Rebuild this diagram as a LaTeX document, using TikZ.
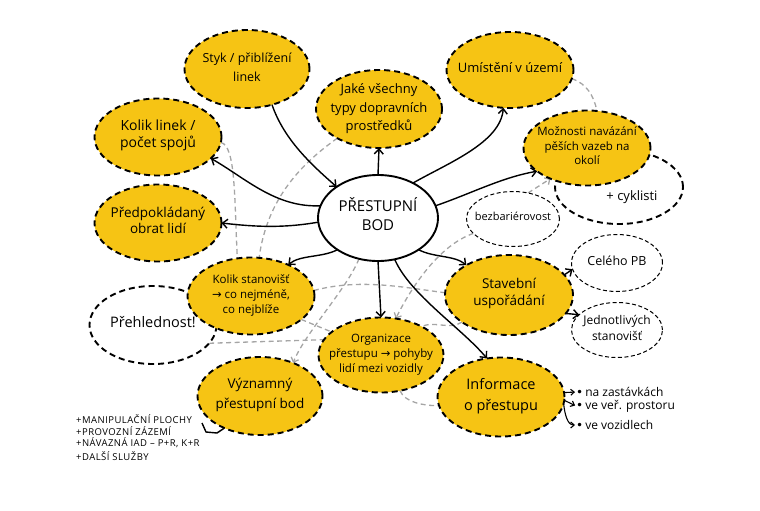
\documentclass[tikz,border=0pt]{standalone}
\usepackage{fontspec}
\setmainfont{Open Sans}
\newfontfamily\dv{DejaVu Sans}
\usetikzlibrary{shapes.geometric,arrows.meta}
\definecolor{ylw}{RGB}{246,196,20}
\definecolor{gry}{RGB}{165,165,165}
\pgfdeclarelayer{bg}
\pgfsetlayers{bg,main}
\newcommand\zt[1]{\smash{\makebox[0pt]{\raisebox{-.35ex}{\begin{tabular}{@{}c@{}}#1\end{tabular}}}}}
\newcommand\ar{{\dv →}}
\newcommand\bl{{\dv •}\,}
\begin{document}
\begin{tikzpicture}[x=1pt,y=-1pt,
  base/.style={ellipse, align=center, inner sep=0pt, outer sep=0pt},
  yel/.style={base, fill=ylw, draw=black, line width=1.9pt, dash pattern=on 6pt off 4pt},
  wht/.style={base, fill=white, draw=black, line width=1.9pt, dash pattern=on 6pt off 4pt},
  thn/.style={base, fill=white, draw=black, line width=1pt, dash pattern=on 4pt off 2.5pt},
  ctr/.style={base, fill=white, draw=black, line width=1.9pt},
  sz/.style 2 args={minimum width=#1pt, minimum height=#2pt},
  fs/.style 2 args={font=\fontsize{#1}{#2}\selectfont},
  arr/.style={draw=black, line width=1.4pt, -{Straight Barb[length=5pt,width=9pt,line width=1.4pt]}},
  sarr/.style={draw=black, line width=1.1pt, shorten >=1pt, -{Straight Barb[length=3.5pt,width=6pt]}},
  gd/.style={draw=gry, line width=1.3pt, dash pattern=on 5pt off 3.5pt},
  gda/.style={gd, -{Straight Barb[length=4pt,width=8pt]}},
  lst/.style={anchor=west, inner sep=0pt, font=\fontsize{9.5}{10}\selectfont\addfontfeatures{LetterSpace=5}},
  bul/.style={anchor=west, inner sep=0pt, font=\fontsize{12}{13}\selectfont}
]
\useasboundingbox (0,0) rectangle (760,511);

% nodes
\node[wht, sz={128}{74}] (cyk) at (619,187) {};
\node[fs={13}{15}, inner sep=0pt] (cykt) at (632,197) {+ cyklisti};
\node[wht, sz={127}{78}, fs={14.5}{17}] (P) at (153,325) {\zt{Přehlednost!}};

\node[ctr, sz={120}{86}, fs={15}{19}] (C) at (378,218) {\zt{PŘESTUPNÍ\\BOD}};
\node[yel, sz={125}{78}, fs={12.5}{19}] (styk) at (247,69) {\zt{Styk / přiblížení\\linek}};
\node[yel, sz={127}{77}, fs={14}{17}] (kl) at (158,137) {\zt{Kolik linek /\\počet spojů}};
\node[yel, sz={126}{78}, fs={13}{18.5}] (J) at (379,109) {\zt{Jaké všechny\\typy dopravních\\prostředků}};
\node[yel, sz={127}{76}, fs={13}{15}] (U) at (510,70) {\zt{Umístění v území}};
\node[yel, sz={127}{75}, fs={11.5}{14.5}] (M) at (587,148) {\zt{Možnosti navázání\\pěších vazeb na\\okolí}};
\node[thn, sz={93}{55}, fs={11}{13}] (B) at (513,219) {\zt{bezbariérovost}};
\node[yel, sz={127}{77}, fs={13.5}{16}] (po) at (158,223) {\zt{Předpokládaný\\obrat lidí}};
\node[yel, sz={127}{77}, fs={11.5}{15}] (ks) at (251,296) {\zt{Kolik stanovišť\\\ar{} co nejméně,\\co nejblíže}};
\node[yel, sz={128}{80}, fs={13.5}{17}] (S) at (509,295) {\zt{Stavební\\uspořádání}};
\node[thn, sz={91}{57}, fs={12.5}{15}] (cpb) at (617,263) {\zt{Celého PB}};
\node[thn, sz={91}{55}, fs={12}{16}] (js) at (617,330) {\zt{Jednotlivých\\stanovišť}};
\node[yel, sz={125}{75}, fs={11.5}{15}] (O) at (381,355) {\zt{Organizace\\přestupu \ar{} pohyby\\lidí mezi vozidly}};
\node[yel, sz={127}{79}, fs={14.5}{21}] (I) at (501,397) {\zt{Informace\\o přestupu}};
\node[yel, sz={125}{78}, fs={13.5}{20}] (V) at (260,396) {\zt{Významný\\přestupní bod}};

% left list
\node[lst] (l1) at (76,419) {+MANIPULAČNÍ PLOCHY};
\node[lst] (l2) at (76,431) {+PROVOZNÍ ZÁZEMÍ};
\node[lst] (l3) at (76,443) {+NÁVAZNÁ IAD – P+R, K+R};
\node[lst] (l4) at (76,456) {+DALŠÍ SLUŽBY};
\coordinate (br) at (202,423);

% right list
\node[bul] (b1) at (576,392) {\bl na zastávkách};
\node[bul] (b2) at (576,406) {\bl ve veř. prostoru};
\node[bul] (b3) at (576,425) {\bl ve vozidlech};

% grey dashed connectors
\begin{pgfonlayer}{bg}
\draw[gd] (U.-8) .. controls +(15,5) and +(-3,-15) .. (M.75);
\draw[gda] (B.60) -- (M.-140);
\draw[gd] (J.-145) .. controls +(-35,25) and +(8,-60) .. (ks.78);
\draw[gd] (kl.-5) .. controls +(15,3) and +(-3,-60) .. (ks.110);
\draw[gd] (ks.5) .. controls +(45,-12) and +(-45,-6) .. (S.178);
\draw[gda] (B.-160) .. controls +(-35,12) and +(15,-30) .. (O.68);
\draw[gd] (S.-150) .. controls +(-12,8) and +(12,-6) .. (O.35);
\draw[gda] (C.-115) .. controls +(-12,30) and +(12,-30) .. (V.45);
\draw[gd] (P.-18) -- (O.165);
\draw[gd] (ks.-25) -- (O.155);
\draw[gd] (O.-62) .. controls +(5,12) and +(-15,0) .. (I.-172);
\end{pgfonlayer}

% black arrows
\draw[arr] (styk.-55) .. controls +(12,35) and +(-25,-22) .. (C.143);
\draw[arr] (C.168) .. controls +(-45,2) and +(35,20) .. (kl.-22);
\draw[arr] (C.184) .. controls +(-35,6) and +(35,4) .. (po.0);
\draw[arr] (C.218) .. controls +(-15,8) and +(12,-10) .. (ks.40);
\draw[arr] (C.90) -- (J.-90);
\draw[arr] (C.45) .. controls +(35,-20) and +(-3,35) .. (U.-100);
\draw[arr] (C.12) .. controls +(35,-12) and +(-35,6) .. (M.-155);
\draw[arr] (C.-38) .. controls +(15,8) and +(-12,-10) .. (S.145);
\draw[arr] (C.-90) -- (O.90);
\draw[arr] (C.-68) .. controls +(15,35) and +(-25,-30) .. (I.110);
\draw[arr] (S.20) -- (cpb.188);
\draw[arr] (S.-18) -- (js.158);
\draw[draw=black, line width=1.4pt, line join=round] (V.-138) -- (217,433) -- (206,432) -- (br);
\draw[sarr] (I.4) -- (b1.west);
\draw[sarr] (I.-3) -- (b2.west);
\draw[sarr] (I.-6) .. controls +(2,18) and +(-6,0) .. (b3.west);
\end{tikzpicture}
\end{document}
